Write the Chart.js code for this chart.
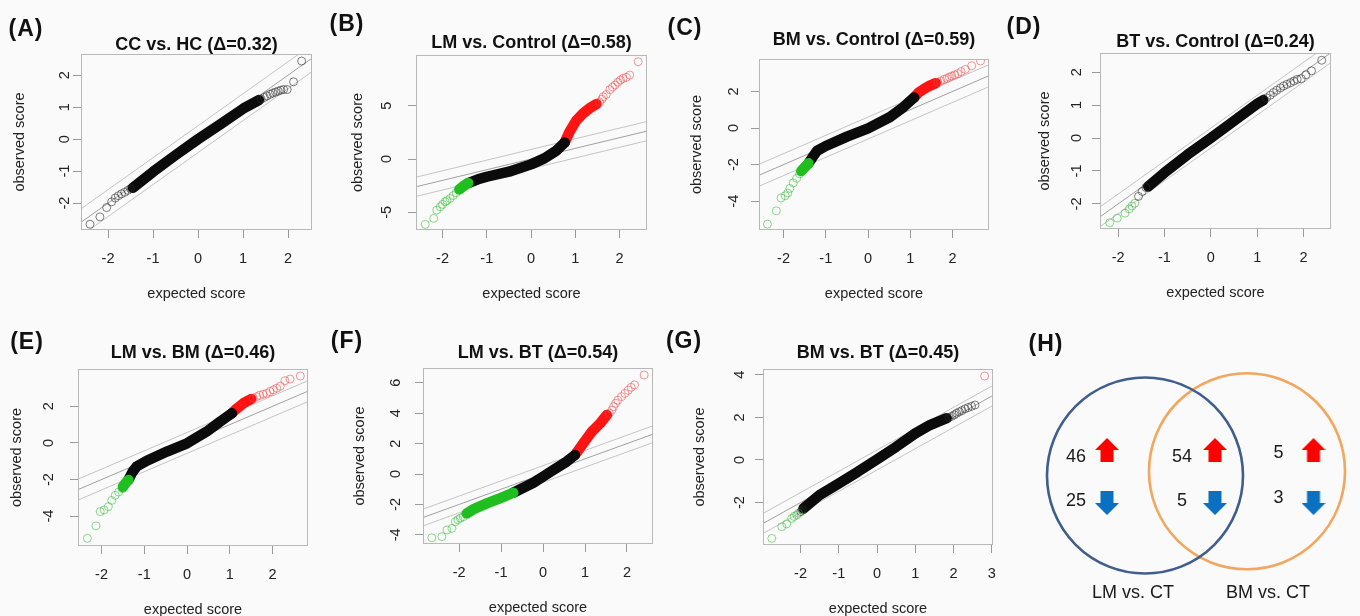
<!DOCTYPE html>
<html>
<head>
<meta charset="utf-8">
<title>SAM plots</title>
<script src="https://cdn.jsdelivr.net/npm/chart.js@4.4.1/dist/chart.umd.min.js"></script>
<style>
  html, body { margin: 0; padding: 0; background: #fafafa; }
  #fig { position: relative; width: 1360px; height: 616px; overflow: hidden; font-family: "Liberation Sans", Arial, sans-serif; }
  #fig canvas { position: absolute; }
  .tag { position: absolute; font-weight: bold; font-size: 23px; letter-spacing: 1px; color: #111; transform: translate(-50%, -50%); white-space: nowrap; }
</style>
</head>
<body>
<div id="fig"></div>
<script>
// tick labels
const ticksX = [-2, -1, 0, 1, 2];
const ticksXG = [-2, -1, 0, 1, 2, 3];
const ticksY1 = [-2, -1, 0, 1, 2];
const ticksYB = [-5, 0, 5];
const ticksY2 = [-4, -2, 0, 2];
const ticksYF = [-4, -2, 0, 2, 4, 6];
const ticksYG = [-2, 0, 2, 4];

// (expected score, observed score) pairs
// dense runs are kept as polylines, sparse tails as single points

// (A) CC vs. HC
const aBlack = [[-1.45,-1.52],[-1.0,-1.02],[-0.5,-0.5],[0,0],[0.5,0.47],[1.0,0.95],[1.35,1.22]];
const aGray = [[1.4,1.25],[1.47,1.3],[1.53,1.35],[1.6,1.4],[1.66,1.44],[1.72,1.47],[1.78,1.5],[1.84,1.53],[1.9,1.55],[1.98,1.55],[2.12,1.79],[2.3,2.44],
  [-1.5,-1.55],[-1.56,-1.6],[-1.63,-1.66],[-1.7,-1.71],[-1.77,-1.77],[-1.84,-1.84],[-1.92,-1.96],[-2.03,-2.14],[-2.18,-2.43],[-2.4,-2.66]];
const aLines = [[[-3,-3],[3,3]], [[-3,-2.58],[3,3.42]], [[-3,-3.42],[3,2.58]]];

// (B) LM vs. Control
const bGreen = [[-1.62,-2.85],[-1.5,-2.45],[-1.42,-2.25]];
const bBlack = [[-1.42,-2.25],[-1.2,-1.9],[-1.0,-1.66],[-0.5,-1.19],[0,-0.5],[0.3,0.06],[0.57,0.78],[0.76,1.55]];
const bRed = [[0.76,1.55],[0.87,2.56],[1.02,3.6],[1.17,4.25],[1.32,4.75],[1.48,5.15]];
const bRedPts = [[1.55,5.35],[1.6,5.6],[1.63,5.84],[1.7,6.05],[1.78,6.5],[1.84,6.75],[1.9,6.94],[1.96,7.2],[2.02,7.4],[2.08,7.56],[2.15,7.65],[2.23,7.87],[2.42,9.12]];
const bGreenPts = [[-1.69,-3.16],[-1.76,-3.42],[-1.83,-3.69],[-1.9,-3.9],[-1.94,-4.0],[-2.0,-4.25],[-2.05,-4.47],[-2.13,-4.78],[-2.2,-5.56],[-2.39,-6.12]];
const bLines = [[[-3,-3],[3,3]], [[-3,-2.1],[3,3.9]], [[-3,-3.9],[3,2.1]]];

// (C) BM vs. Control
const cGreen = [[-1.58,-2.35],[-1.5,-2.15],[-1.41,-1.93]];
const cBlack = [[-1.41,-1.93],[-1.3,-1.55],[-1.21,-1.25],[-1.0,-0.98],[-0.5,-0.47],[0,-0.02],[0.52,0.6],[0.84,1.15],[1.09,1.67]];
const cRed = [[1.09,1.67],[1.2,1.95],[1.3,2.1],[1.45,2.3],[1.6,2.45]];
const cRedPts = [[1.65,2.5],[1.72,2.57],[1.8,2.65],[1.86,2.71],[1.92,2.78],[1.98,2.84],[2.05,2.9],[2.12,2.97],[2.2,3.08],[2.3,3.2],[2.45,3.4],[2.66,3.66]];
const cGreenPts = [[-1.62,-2.5],[-1.69,-2.75],[-1.77,-3.0],[-1.85,-3.3],[-1.9,-3.55],[-1.96,-3.7],[-2.06,-3.82],[-2.17,-4.52],[-2.38,-5.25]];
const cLines = [[[-3,-3],[3,3]], [[-3,-2.4],[3,3.6]], [[-3,-3.6],[3,2.4]]];

// (D) BT vs. Control
const dBlack = [[-1.35,-1.47],[-1.0,-1.05],[-0.5,-0.5],[0,0],[0.5,0.52],[1.0,1.04],[1.13,1.15]];
const dGray = [[1.2,1.22],[1.28,1.3],[1.35,1.38],[1.42,1.45],[1.5,1.52],[1.57,1.58],[1.64,1.63],[1.72,1.68],[1.79,1.73],[1.86,1.78],[1.95,1.8],[2.05,1.92],[2.17,2.04],[2.39,2.36],
  [-1.4,-1.5],[-1.48,-1.62],[-1.56,-1.77]];
const dGreenPts = [[-1.64,-1.98],[-1.7,-2.06],[-1.76,-2.15],[-1.85,-2.28],[-2.02,-2.43],[-2.18,-2.57]];
const dLines = [[[-3,-3],[3,3]], [[-3,-2.7],[3,3.3]], [[-3,-3.3],[3,2.7]]];

// (E) LM vs. BM
const eGreen = [[-1.5,-2.4],[-1.44,-2.2],[-1.37,-2.02]];
const eBlack = [[-1.37,-2.02],[-1.28,-1.6],[-1.18,-1.29],[-0.94,-0.97],[-0.47,-0.47],[0,-0.02],[0.46,0.62],[0.77,1.16],[1.05,1.62]];
const eRed = [[1.05,1.62],[1.15,1.85],[1.32,2.17],[1.5,2.4]];
const eRedPts = [[1.55,2.45],[1.63,2.53],[1.7,2.6],[1.78,2.66],[1.86,2.71],[1.94,2.8],[2.02,2.9],[2.1,2.99],[2.18,3.1],[2.29,3.4],[2.41,3.49],[2.65,3.66]];
const eGreenPts = [[-1.52,-2.5],[-1.6,-2.68],[-1.68,-2.86],[-1.76,-3.14],[-1.84,-3.48],[-1.94,-3.66],[-2.03,-3.75],[-2.13,-4.53],[-2.33,-5.21]];
const eLines = [[[-3,-3],[3,3]], [[-3,-2.43],[3,3.57]], [[-3,-3.57],[3,2.43]]];

// (F) LM vs. BT
const fGreen = [[-1.82,-2.59],[-1.66,-2.32],[-1.34,-1.93],[-1.03,-1.6],[-0.71,-1.23]];
const fBlack = [[-0.71,-1.23],[-0.23,-0.57],[0,-0.17],[0.24,0.26],[0.56,0.81],[0.76,1.25]];
const fRed = [[0.76,1.25],[0.96,2.02],[1.16,2.78],[1.36,3.33],[1.52,3.88]];
const fRedPts = [[1.58,4.0],[1.64,4.2],[1.68,4.43],[1.73,4.65],[1.78,4.85],[1.87,5.09],[1.95,5.3],[2.03,5.5],[2.1,5.7],[2.18,5.86],[2.41,6.51]];
const fGreenPts = [[-1.9,-2.81],[-1.97,-2.9],[-2.03,-3.0],[-2.09,-3.14],[-2.17,-3.57],[-2.29,-3.68],[-2.41,-4.12],[-2.65,-4.19]];
const fLines = [[[-3,-3],[3,3]], [[-3,-2.45],[3,3.55]], [[-3,-3.55],[3,2.45]]];

// (G) BM vs. BT
const gBlack = [[-1.92,-2.27],[-1.5,-1.64],[-1.0,-1.1],[-0.5,-0.55],[0,0.03],[0.5,0.62],[1.0,1.25],[1.38,1.64],[1.82,1.96]];
const gGray = [[1.88,2.0],[1.95,2.05],[2.02,2.12],[2.08,2.19],[2.15,2.26],[2.22,2.32],[2.3,2.4],[2.38,2.46],[2.47,2.52],[2.56,2.58],
  [-1.95,-2.35],[-1.99,-2.42]];
const gGreenPts = [[-2.05,-2.5],[-2.1,-2.58],[-2.17,-2.65],[-2.23,-2.74],[-2.36,-3.0],[-2.49,-3.13],[-2.75,-3.68]];
const gRedPts = [[2.81,3.94]];
const gLines = [[[-3.5,-3.5],[3.5,3.5]], [[-3.5,-3.03],[3.5,3.97]], [[-3.5,-3.97],[3.5,3.03]]];

// (H) Venn: LM only, both, BM only
const vennSets = ['LM vs. CT', 'BM vs. CT'];
const vennUp = [46, 54, 5];
const vennDown = [25, 5, 3];

const fig = document.getElementById('fig');
Chart.defaults.font.family = '"Liberation Sans", Arial, sans-serif';
Chart.defaults.color = '#222';

const bandCol = { black: '#0b0b0b', red: '#ff1414', green: '#1fbf1f' };
const ptCol = { gray: 'rgba(45,45,45,0.6)', red: 'rgba(235,70,70,0.55)', green: 'rgba(45,185,45,0.55)' };

const YW = 72, TH = 40, XH = 80;

const panels = [
  { title: 'CC vs. HC (\u0394=0.32)', area: [81, 54, 312, 230], xr: [-2.6, 2.53], yr: [-2.84, 2.66], xt: ticksX, yt: ticksY1,
    gap: { title: 9, ytick: 16, ytitle: 61 }, ref: aLines, bands: [[aBlack, 'black']], pts: [[aGray, 'gray']] },
  { title: 'LM vs. Control (\u0394=0.58)', area: [416, 55, 647, 230], xr: [-2.6, 2.62], yr: [-6.65, 9.75], xt: ticksX, yt: ticksYB,
    gap: { title: 12, ytick: 29, ytitle: 58 }, ref: bLines, bands: [[bGreen, 'green'], [bBlack, 'black'], [bRed, 'red']], pts: [[bRedPts, 'red'], [bGreenPts, 'green']] },
  { title: 'BM vs. Control (\u0394=0.59)', area: [759, 59, 989, 230], xr: [-2.58, 2.86], yr: [-5.57, 3.77], xt: ticksX, yt: ticksY2,
    gap: { title: 19, ytick: 25, ytitle: 62 }, ref: cLines, bands: [[cGreen, 'green'], [cBlack, 'black'], [cRed, 'red']], pts: [[cRedPts, 'red'], [cGreenPts, 'green']] },
  { title: 'BT vs. Control (\u0394=0.24)', area: [1100, 53, 1331, 229], xr: [-2.39, 2.59], yr: [-2.76, 2.58], xt: ticksX, yt: ticksY1,
    gap: { title: 11, ytick: 23, ytitle: 55 }, ref: dLines, bands: [[dBlack, 'black']], pts: [[dGray, 'gray'], [dGreenPts, 'green']] },
  { title: 'LM vs. BM (\u0394=0.46)', area: [78, 369, 308, 546], xr: [-2.55, 2.83], yr: [-5.63, 4.04], xt: ticksX, yt: ticksY2,
    gap: { title: 16, ytick: 29, ytitle: 61 }, ref: eLines, bands: [[eGreen, 'green'], [eBlack, 'black'], [eRed, 'red']], pts: [[eRedPts, 'red'], [eGreenPts, 'green']] },
  { title: 'LM vs. BT (\u0394=0.54)', area: [423, 368, 653, 544], xr: [-2.86, 2.62], yr: [-4.6, 6.97], xt: ticksX, yt: ticksYF,
    gap: { title: 15, ytick: 27, ytitle: 63 }, ref: fLines, bands: [[fGreen, 'green'], [fBlack, 'black'], [fRed, 'red']], pts: [[fRedPts, 'red'], [fGreenPts, 'green']] },
  { title: 'BM vs. BT (\u0394=0.45)', area: [763, 369, 993, 545], xr: [-2.98, 3.03], yr: [-3.99, 4.27], xt: ticksXG, yt: ticksYG,
    gap: { title: 16, ytick: 23, ytitle: 63 }, ref: gLines, bands: [[gBlack, 'black']], pts: [[gGray, 'gray'], [gGreenPts, 'green'], [gRedPts, 'red']] },
];

const tags = [['(A)', 26, 28], ['(B)', 347, 23], ['(C)', 685, 27], ['(D)', 1024, 26],
  ['(E)', 27, 341], ['(F)', 347, 340], ['(G)', 684, 340], ['(H)', 1046, 343]];

const xy = (arr) => arr.map(([x, y]) => ({ x, y }));

function makeCanvas(left, top, w, h) {
  const cv = document.createElement('canvas');
  cv.width = w; cv.height = h;
  cv.style.left = left + 'px'; cv.style.top = top + 'px';
  cv.style.width = w + 'px'; cv.style.height = h + 'px';
  fig.appendChild(cv);
  return cv;
}

// R-style box round the plot region
const boxPlugin = {
  id: 'box',
  afterDatasetsDraw(chart) {
    const a = chart.chartArea, ctx = chart.ctx;
    ctx.save();
    ctx.strokeStyle = '#b8b8b8';
    ctx.lineWidth = 1;
    ctx.strokeRect(Math.round(a.left) + 0.5, Math.round(a.top) + 0.5, Math.round(a.width) - 1, Math.round(a.height) - 1);
    ctx.restore();
  }
};

function qqPanel(p) {
  const [L, T, R, B] = p.area;
  const cv = makeCanvas(L - YW, T - TH, (R - L) + 2 * YW, (B - T) + TH + XH);
  const datasets = [];
  p.pts.forEach(([pts, c]) => datasets.push({
    data: xy(pts), showLine: false, pointRadius: 4, pointBorderWidth: 1,
    pointBorderColor: ptCol[c], pointBackgroundColor: 'rgba(0,0,0,0)'
  }));
  p.bands.forEach(([pts, c]) => datasets.push({
    data: xy(pts), showLine: true, borderColor: bandCol[c], borderWidth: 10.5,
    borderCapStyle: 'round', borderJoinStyle: 'round', pointRadius: 0
  }));
  p.ref.forEach((seg, i) => datasets.push({
    data: xy(seg), showLine: true, borderColor: i === 0 ? '#a0a0a0' : '#c4c4c4',
    borderWidth: 1, pointRadius: 0, clip: 0
  }));

  const tickFont = { size: 14.5 };
  new Chart(cv, {
    type: 'scatter',
    data: { datasets },
    options: {
      responsive: false,
      animation: false,
      events: [],
      layout: { padding: 0, autoPadding: false },
      scales: {
        x: {
          type: 'linear', min: p.xr[0], max: p.xr[1],
          afterBuildTicks: (s) => { s.ticks = p.xt.map((v) => ({ value: v })); },
          afterFit: (s) => { s.height = XH; },
          grid: { drawOnChartArea: false, tickLength: 8, color: '#9a9a9a' },
          border: { display: false },
          ticks: { autoSkip: false, maxRotation: 0, padding: 12, font: tickFont, color: '#222', callback: (v) => String(v) },
          title: { display: true, text: 'expected score', font: tickFont, color: '#222', padding: { top: 0, bottom: XH - 64 - 8.7 } }
        },
        y: {
          type: 'linear', min: p.yr[0], max: p.yr[1],
          afterBuildTicks: (s) => { s.ticks = p.yt.map((v) => ({ value: v })); },
          afterFit: (s) => { s.width = YW; },
          grid: { drawOnChartArea: false, tickLength: 8, color: '#9a9a9a' },
          border: { display: false },
          ticks: { autoSkip: false, minRotation: 90, maxRotation: 90, crossAlign: 'center', padding: p.gap.ytick - 8 - 6.45,
            font: tickFont, color: '#222', callback: (v) => String(v) },
          title: { display: true, text: 'observed score', font: tickFont, color: '#222', padding: { top: YW - p.gap.ytitle - 8.7, bottom: 0 } }
        },
        y2: {
          position: 'right', display: true,
          afterFit: (s) => { s.width = YW; },
          grid: { display: false }, border: { display: false }, ticks: { display: false }
        }
      },
      plugins: {
        legend: { display: false },
        tooltip: { enabled: false },
        title: {
          display: true, text: p.title, color: '#111',
          font: { size: 18, weight: 'bold', lineHeight: 1 },
          padding: { top: TH - 18 - (p.gap.title - 9), bottom: p.gap.title - 9 }
        }
      }
    },
    plugins: [boxPlugin]
  });
}

panels.forEach(qqPanel);

// ---- (H) Venn diagram, 1 unit = 10 px ----
function arrowImg(color, up) {
  const c = document.createElement('canvas');
  c.width = 24; c.height = 24;
  const g = c.getContext('2d');
  const shape = [[12, 0], [24, 12], [18.5, 12], [18.5, 24], [5.5, 24], [5.5, 12], [0, 12]];
  g.fillStyle = color;
  g.beginPath();
  shape.forEach(([x, y], i) => {
    const yy = up ? y : 24 - y;
    if (i === 0) g.moveTo(x, yy); else g.lineTo(x, yy);
  });
  g.closePath();
  g.fill();
  return c;
}

const arrowX = [10.7, 21.5, 31.35];
const numX = [7.6, 18.2, 27.85];
const numYUp = [15.93, 15.9, 16.3];
const numYDown = [11.5, 11.5, 11.8];
const setLabelX = [13.3, 26.8];

const vennText = {
  id: 'vennText',
  afterDatasetsDraw(chart) {
    const { ctx, scales: { x, y } } = chart;
    ctx.save();
    ctx.fillStyle = '#1a1a1a';
    ctx.textAlign = 'center';
    ctx.textBaseline = 'middle';
    ctx.font = '18px "Liberation Sans", Arial, sans-serif';
    vennUp.forEach((n, i) => ctx.fillText(String(n), x.getPixelForValue(numX[i]), y.getPixelForValue(numYUp[i])));
    vennDown.forEach((n, i) => ctx.fillText(String(n), x.getPixelForValue(numX[i]), y.getPixelForValue(numYDown[i])));
    vennSets.forEach((s, i) => ctx.fillText(s, x.getPixelForValue(setLabelX[i]), y.getPixelForValue(2.3)));
    ctx.restore();
  }
};

const vennCv = makeCanvas(1000, 300, 360, 316);
new Chart(vennCv, {
  type: 'scatter',
  data: {
    datasets: [
      { data: [{ x: 14.5, y: 14.05 }], pointRadius: 98, pointBorderWidth: 2.6, pointBorderColor: '#3f5d8d', pointBackgroundColor: 'rgba(0,0,0,0)', clip: false },
      { data: [{ x: 24.7, y: 14.47 }], pointRadius: 98, pointBorderWidth: 2.6, pointBorderColor: '#f2a65e', pointBackgroundColor: 'rgba(0,0,0,0)', clip: false },
      { data: arrowX.map((x) => ({ x, y: 16.6 })), pointStyle: arrowImg('#ff0000', true) },
      { data: arrowX.map((x) => ({ x, y: 11.3 })), pointStyle: arrowImg('#0a70c2', false) }
    ]
  },
  options: {
    responsive: false,
    animation: false,
    events: [],
    layout: { padding: 0, autoPadding: false },
    scales: {
      x: { type: 'linear', display: false, min: 0, max: 36 },
      y: { type: 'linear', display: false, min: 0, max: 31.6 }
    },
    plugins: { legend: { display: false }, tooltip: { enabled: false } }
  },
  plugins: [vennText]
});

tags.forEach(([t, x, y]) => {
  const d = document.createElement('div');
  d.className = 'tag';
  d.textContent = t;
  d.style.left = x + 'px';
  d.style.top = y + 'px';
  fig.appendChild(d);
});
</script>
</body>
</html>
